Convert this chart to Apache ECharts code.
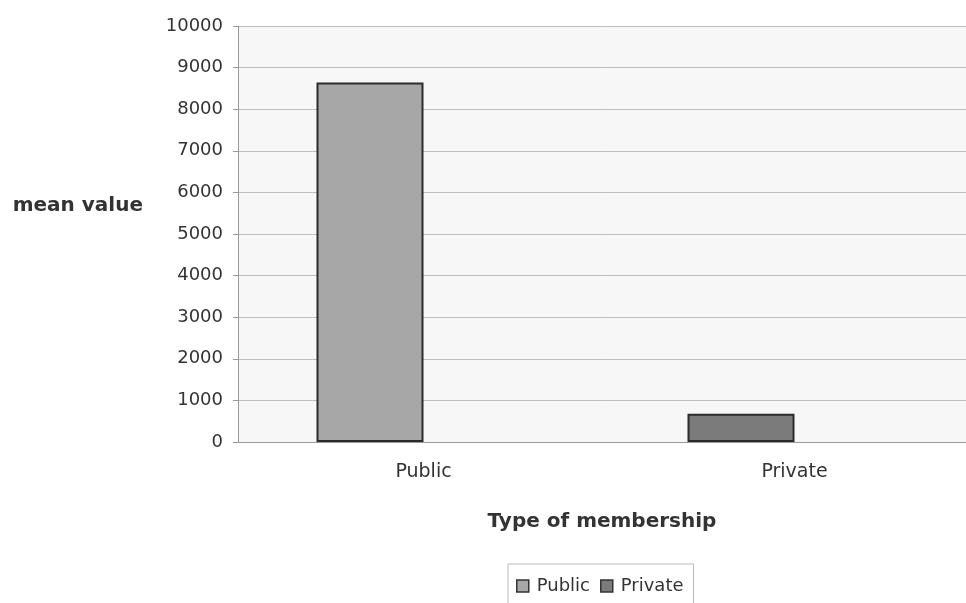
<!DOCTYPE html>
<html>
<head>
<meta charset="utf-8">
<script src="https://cdn.jsdelivr.net/npm/echarts@6/dist/echarts.min.js"></script>
<style>
  html, body { margin: 0; padding: 0; background: #fff; }
  #chart { width: 966px; height: 603px; }
</style>
</head>
<body>
<div id="chart"></div>
<script>
const categories = ["Public", "Private"];
const publicValues = [8640, "-"];
const privateValues = ["-", 680];
const yTicks = { min: 0, max: 10000, interval: 1000 };

const chart = echarts.init(document.getElementById("chart"));

const barStyle = (color) => ({
  color: color,
  borderColor: "#2b2b2b",
  borderWidth: 2,
});

chart.setOption({
  backgroundColor: "#fff",
  textStyle: { fontFamily: "DejaVu Sans, sans-serif" },
  grid: {
    left: 238,
    right: -14,
    top: 26,
    bottom: 161,
    outerBoundsMode: "none",
    containLabel: false,
    show: true,
    backgroundColor: "#f7f7f7",
    borderWidth: 0,
  },
  legend: {
    data: [
      { name: "Public", itemStyle: { borderColor: "#333", borderWidth: 1.5 } },
      { name: "Private", itemStyle: { borderColor: "#333", borderWidth: 1.5 } },
    ],
    icon: "rect",
    left: 508,
    top: 564,
    padding: [13, 10, 20, 8],
    itemGap: 10,
    itemWidth: 12,
    itemHeight: 12,
    borderColor: "#bbb",
    borderWidth: 1,
    borderRadius: 0,
    textStyle: { fontSize: 18, color: "#333", padding: [0, 0, 0, 3] },
  },
  xAxis: {
    type: "category",
    data: categories,
    name: "Type of membership",
    nameLocation: "middle",
    nameGap: 70,
    nameTextStyle: { fontSize: 20, fontWeight: "bold", color: "#333", padding: [0, 14, 0, 0] },
    axisLine: { lineStyle: { color: "#999" } },
    axisTick: { show: false },
    axisLabel: { fontSize: 19, color: "#333", margin: 21 },
  },
  yAxis: {
    type: "value",
    min: yTicks.min,
    max: yTicks.max,
    interval: yTicks.interval,
    name: "mean value",
    nameLocation: "middle",
    nameRotate: 0,
    nameGap: 95,
    nameTextStyle: {
      fontSize: 20,
      fontWeight: "bold",
      color: "#333",
      verticalAlign: "bottom",
      padding: [0, 0, 18, 0],
    },
    axisLine: { show: true, lineStyle: { color: "#999" } },
    axisTick: { show: true, length: 5, lineStyle: { color: "#999" } },
    axisLabel: { fontSize: 18, color: "#333", margin: 15, formatter: (v) => String(v) },
    splitLine: { lineStyle: { color: "#bdbdbd", width: 1 } },
  },
  series: [
    {
      name: "Public",
      type: "bar",
      stack: "m",
      data: publicValues,
      barWidth: 107,
      barGap: "0%",
      itemStyle: barStyle("#a7a7a7"),
    },
    {
      name: "Private",
      type: "bar",
      stack: "m",
      data: privateValues,
      barWidth: 107,
      itemStyle: barStyle("#7b7b7b"),
    },
    {
      name: "spacer",
      type: "bar",
      data: ["-", "-"],
      barWidth: 107,
    },
  ],
});
</script>
</body>
</html>
